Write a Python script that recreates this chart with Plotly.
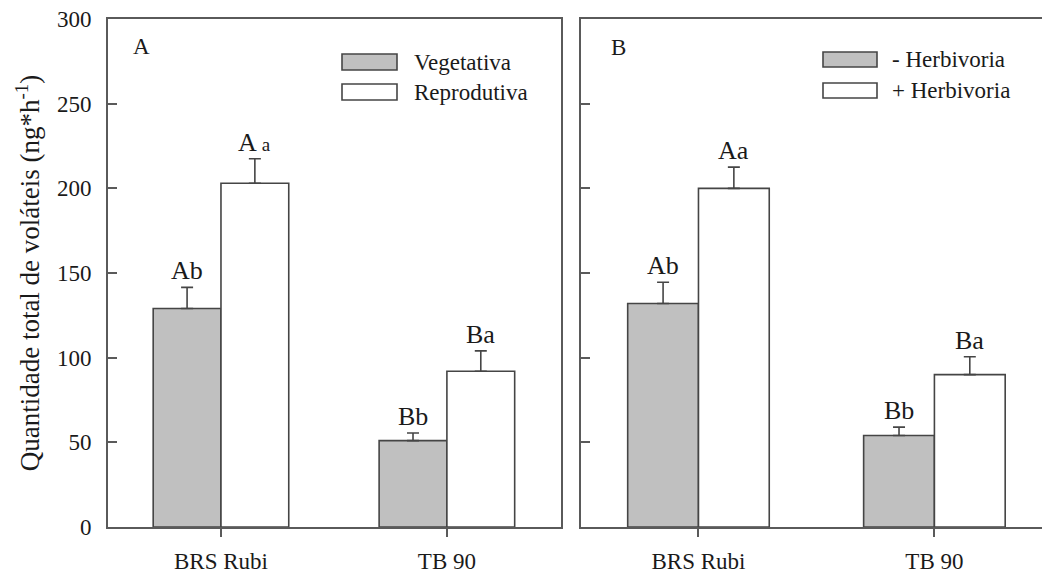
import plotly.graph_objects as go

# Cultivars on the x axis
categories = ["BRS Rubi", "TB 90"]

# Panel A: plant phenological stage
veg_vals = [129, 51]
veg_err = [12.5, 4.5]
rep_vals = [203, 92]
rep_err = [14.5, 12]
veg_letters = ["Ab", "Bb"]
rep_letters = ["A <span style='font-size:19px'>a</span>", "Ba"]

# Panel B: herbivory
noherb_vals = [132, 54]
noherb_err = [12.5, 5]
herb_vals = [200, 90]
herb_err = [12.5, 10.5]
noherb_letters = ["Ab", "Bb"]
herb_letters = ["Aa", "Ba"]

y_ticks = [0, 50, 100, 150, 200, 250, 300]

W, H = 1042, 574
FONT = "Liberation Serif"
GRAY = "#c0c0c0"
LINE = "#454545"
AXIS = "#5a5a5a"
TXT = "#1a1a1a"


def px(x):
    return x / W


def py(y):
    return 1 - y / H


fig = go.Figure()

xs = list(range(len(categories)))


def add_bar(vals, err, fill, name, xa, ya):
    fig.add_trace(go.Bar(
        x=xs, y=vals, name=name, xaxis=xa, yaxis=ya,
        marker=dict(color=fill, line=dict(color=LINE, width=1.6)),
        error_y=dict(type="data", array=err, arrayminus=[0] * len(err),
                     symmetric=False, color=LINE, thickness=1.6, width=6),
        showlegend=False,
    ))


add_bar(veg_vals, veg_err, GRAY, "Vegetativa", "x", "y")
add_bar(rep_vals, rep_err, "white", "Reprodutiva", "x", "y")
add_bar(noherb_vals, noherb_err, GRAY, "- Herbivoria", "x2", "y2")
add_bar(herb_vals, herb_err, "white", "+ Herbivoria", "x2", "y2")

annotations = []
OFF = 0.15


def add_letters(vals, err, letters, shift, xref, yref):
    for i, (v, e, t) in enumerate(zip(vals, err, letters)):
        annotations.append(dict(
            x=i + shift, y=v + e, xref=xref, yref=yref, text=t,
            showarrow=False, yanchor="bottom", xanchor="center",
            font=dict(family=FONT, size=26, color=TXT),
        ))


add_letters(veg_vals, veg_err, veg_letters, -OFF, "x", "y")
add_letters(rep_vals, rep_err, rep_letters, OFF, "x", "y")
add_letters(noherb_vals, noherb_err, noherb_letters, -OFF, "x2", "y2")
add_letters(herb_vals, herb_err, herb_letters, OFF, "x2", "y2")

# Panel letters
for t, x, y in [("A", 131, 46), ("B", 609, 48)]:
    annotations.append(dict(x=px(x), y=py(y), xref="paper", yref="paper", text=t,
                            showarrow=False, xanchor="left", yanchor="middle",
                            font=dict(family=FONT, size=23, color=TXT)))

# Legend boxes drawn inside each panel
shapes = []
legend_items = [
    ("Vegetativa", GRAY, 342, 397, 54, 70, 412),
    ("Reprodutiva", "white", 342, 397, 84, 100, 412),
    ("- Herbivoria", GRAY, 823, 877, 52, 67, 890),
    ("+ Herbivoria", "white", 823, 877, 83, 98, 890),
]
for label, fill, x0, x1, y0, y1, tx in legend_items:
    shapes.append(dict(type="rect", xref="paper", yref="paper",
                       x0=px(x0), x1=px(x1), y0=py(y1), y1=py(y0),
                       fillcolor=fill, line=dict(color=LINE, width=1.6)))
    annotations.append(dict(x=px(tx), y=py((y0 + y1) / 2), xref="paper", yref="paper",
                            text=label, showarrow=False, xanchor="left", yanchor="middle",
                            font=dict(family=FONT, size=23, color=TXT)))

tick_font = dict(family=FONT, size=23, color=TXT)
y_dom = [py(527), py(19)]

xaxis_common = dict(
    tickvals=xs, ticktext=categories, ticks="outside", ticklen=8, tickwidth=1.6,
    tickcolor=AXIS, showline=True, linecolor=AXIS, linewidth=2, mirror=True,
    showgrid=False, zeroline=False, tickfont=tick_font, ticklabelstandoff=4,
    automargin=False,
)
yaxis_common = dict(
    range=[0, 300], tickvals=y_ticks, ticks="inside", ticklen=9, tickwidth=1.6,
    tickcolor=AXIS, showline=True, linecolor=AXIS, linewidth=2,
    showgrid=False, zeroline=False, tickfont=tick_font, domain=y_dom,
    automargin=False,
)

fig.update_layout(
    width=W, height=H,
    margin=dict(l=0, r=0, t=0, b=0),
    paper_bgcolor="white", plot_bgcolor="white",
    barmode="group", bargap=0.4, bargroupgap=0,
    xaxis=dict(domain=[px(108), px(561)], range=[-0.5, 1.505], anchor="y", **xaxis_common),
    yaxis=dict(anchor="x", mirror=True, ticklabelstandoff=10,
               title=dict(text="Quantidade total de voláteis (ng*h<sup>-1</sup>)",
                          font=dict(family=FONT, size=27, color=TXT), standoff=9),
               **yaxis_common),
    xaxis2=dict(domain=[px(580.5), 1.0], range=[-0.5, 1.456], anchor="y2", **xaxis_common),
    yaxis2=dict(anchor="x2", mirror=False, showticklabels=False, **yaxis_common),
    annotations=annotations,
    shapes=shapes,
)

fig.write_html("out.html")
